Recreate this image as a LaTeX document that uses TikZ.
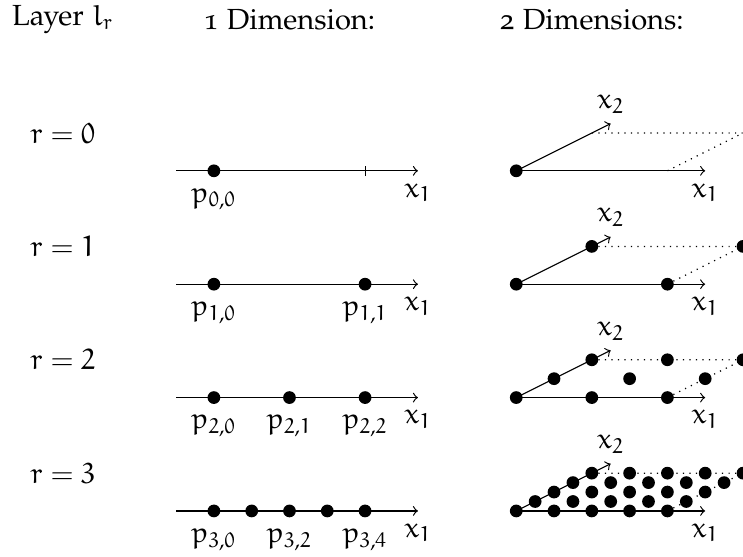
\documentclass[tikz,border=0pt,11pt]{standalone}
\usepackage[T1]{fontenc}
\usepackage[osf]{mathpazo}
\usepackage{euler}
\usetikzlibrary{positioning, calc}

\begin{document}
\begin{tikzpicture}[
    gridpt/.style={circle, fill=black, inner sep=0pt, minimum size=4.8pt},
    axisline/.style={->, line width=0.45pt},
    hullline/.style={dotted, line width=0.45pt},
    ptlabel/.style={label={[inner sep=4pt]below:#1}},
]
    \useasboundingbox (-2.83,-5.10) rectangle (7,2.26);

    % Headings
    \node (head0) at (-2,2) {Layer $l_r$};
    \node (head1) at (1,2) {1 Dimension:};
    \node (head2) at (5,2) {2 Dimensions:};

    % Layers with their axes
    \foreach \r in {0,...,3} {
        \node (lay\r) at (-2,0.5-1.5*\r) {$r=\r$};
        \coordinate (s\r) at (-0.5,-1.5*\r);
        \coordinate (e\r) at (2.7,-1.5*\r);
        \coordinate (o\r) at (4,-1.5*\r);
        \coordinate (xa\r) at (6.5,-1.5*\r);
        \coordinate (xb\r) at (5.25,0.625-1.5*\r);
        \coordinate (ca\r) at (6,-1.5*\r);
        \coordinate (cb\r) at (5,0.5-1.5*\r);
        \coordinate (cc\r) at (7,0.5-1.5*\r);
        \draw[axisline] (s\r) -- (e\r) node[below=1pt] {$x_1$};
        \draw[hullline] (cb\r) -- (cc\r) -- (ca\r);
        \draw[axisline] (o\r) -- (xa\r) node[below=1pt] {$x_1$};
        \draw[axisline] (o\r) -- (xb\r) node[above] {$x_2$};
    }

    % 1 Dimension
    \node[gridpt, ptlabel={$p_{0,0}$}] (p00) at (0,0) {};
    \draw (2,-0.07) -- (2,0.07);
    \node[gridpt, ptlabel={$p_{1,0}$}] (p10) at (0,-1.5) {};
    \node[gridpt, ptlabel={$p_{1,1}$}] (p11) at (2,-1.5) {};
    \node[gridpt, ptlabel={$p_{2,0}$}] (p20) at (0,-3) {};
    \node[gridpt, ptlabel={$p_{2,1}$}] (p21) at (1,-3) {};
    \node[gridpt, ptlabel={$p_{2,2}$}] (p22) at (2,-3) {};
    \node[gridpt, ptlabel={$p_{3,0}$}] (p30) at (0,-4.5) {};
    \node[gridpt] (p31) at (0.5,-4.5) {};
    \node[gridpt, ptlabel={$p_{3,2}$}] (p32) at (1,-4.5) {};
    \node[gridpt] (p33) at (1.5,-4.5) {};
    \node[gridpt, ptlabel={$p_{3,4}$}] (p34) at (2,-4.5) {};

    % 2 Dimensions
    \node[gridpt] (q0-0-0) at (o0) {};
    \foreach \r/\m in {1/1,2/2,3/4} {
        \foreach \i in {0,...,\m} {
            \foreach \j in {0,...,\m} {
                \node[gridpt] (q\r-\i-\j) at ($(o\r)+({(2*\i+\j)/\m},{0.5*\j/\m})$) {};
            }
        }
    }
\end{tikzpicture}
\end{document}
